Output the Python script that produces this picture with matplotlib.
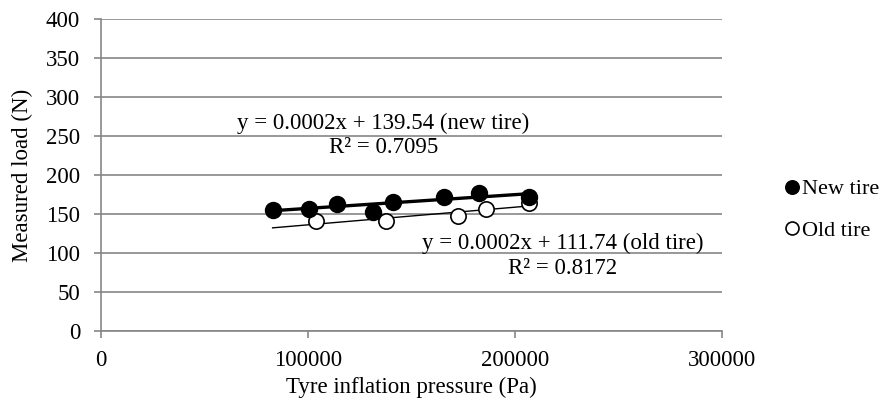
import numpy as np
import matplotlib
matplotlib.use("Agg")
import matplotlib.pyplot as plt

# data
new_pressure = [82900, 100300, 114000, 131300, 141200, 165800, 182800, 206900]
new_load = [155, 157, 163, 153, 166, 172, 177, 172]
old_pressure = [103900, 137700, 172300, 186000, 206900]
old_load = [141, 141, 147, 157, 164]

new_eq = "y = 0.0002x + 139.54 (new tire)\nR\u00b2 = 0.7095"
old_eq = "y = 0.0002x + 111.74 (old tire)\nR\u00b2 = 0.8172"

plt.rcParams['font.family'] = ['Liberation Serif', 'DejaVu Serif']
plt.rcParams['font.size'] = 16.5

grid_col = '#868686'

fig = plt.figure(figsize=(8.91, 4.11), dpi=100)
ax = fig.add_axes([101/891, 1 - 331/411, (722-101)/891, (331-19)/411])

ax.set_xlim(0, 300000)
ax.set_ylim(0, 400)
ax.set_xticks([0, 100000, 200000, 300000])
ax.set_yticks(np.arange(0, 401, 50))
ax.yaxis.grid(True, color=grid_col, lw=1.2)
ax.set_axisbelow(True)
for s in ['top', 'right']:
    ax.spines[s].set_visible(False)
for s in ['left', 'bottom']:
    ax.spines[s].set_color(grid_col)
    ax.spines[s].set_linewidth(1.2)
ax.tick_params(axis='both', colors=grid_col, length=5, width=1.2, labelcolor='black')
ax.tick_params(axis='x', pad=9)
ax.tick_params(axis='y', pad=10)

# trend lines (least squares), both drawn over the full pressure range
xr = np.array([min(new_pressure), max(new_pressure)])
p_new = np.polyfit(new_pressure, new_load, 1)
p_old = np.polyfit(old_pressure, old_load, 1)
ax.plot(xr, np.polyval(p_new, xr), color='black', lw=2.4, zorder=2)
ax.plot(xr, np.polyval(p_old, xr), color='black', lw=1.0, zorder=2)

ax.plot(old_pressure, old_load, 'o', ms=11, mfc='white', mec='black', mew=1.2,
        label='Old tire', zorder=3)
ax.plot(new_pressure, new_load, 'o', ms=11.5, mfc='black', mec='black',
        label='New tire', zorder=4)

ax.text(0.455, 0.628, new_eq, transform=ax.transAxes, ha='center', va='center',
        linespacing=1.2)
ax.text(0.744, 0.24, old_eq, transform=ax.transAxes, ha='center', va='center',
        linespacing=1.25)

h, l = ax.get_legend_handles_labels()
fig.legend(h[::-1], l[::-1], loc='center left', bbox_to_anchor=(783/891, 1 - 210/411),
           frameon=False, borderpad=0, borderaxespad=0, handletextpad=0.05,
           handlelength=0.8, labelspacing=0.95, markerscale=0.85, fontsize=16)

ax.set_xlabel('Tyre inflation pressure (Pa)', labelpad=4)
ax.set_ylabel('Measured load (N)', labelpad=9)

fig.savefig('out.png', dpi=100)
